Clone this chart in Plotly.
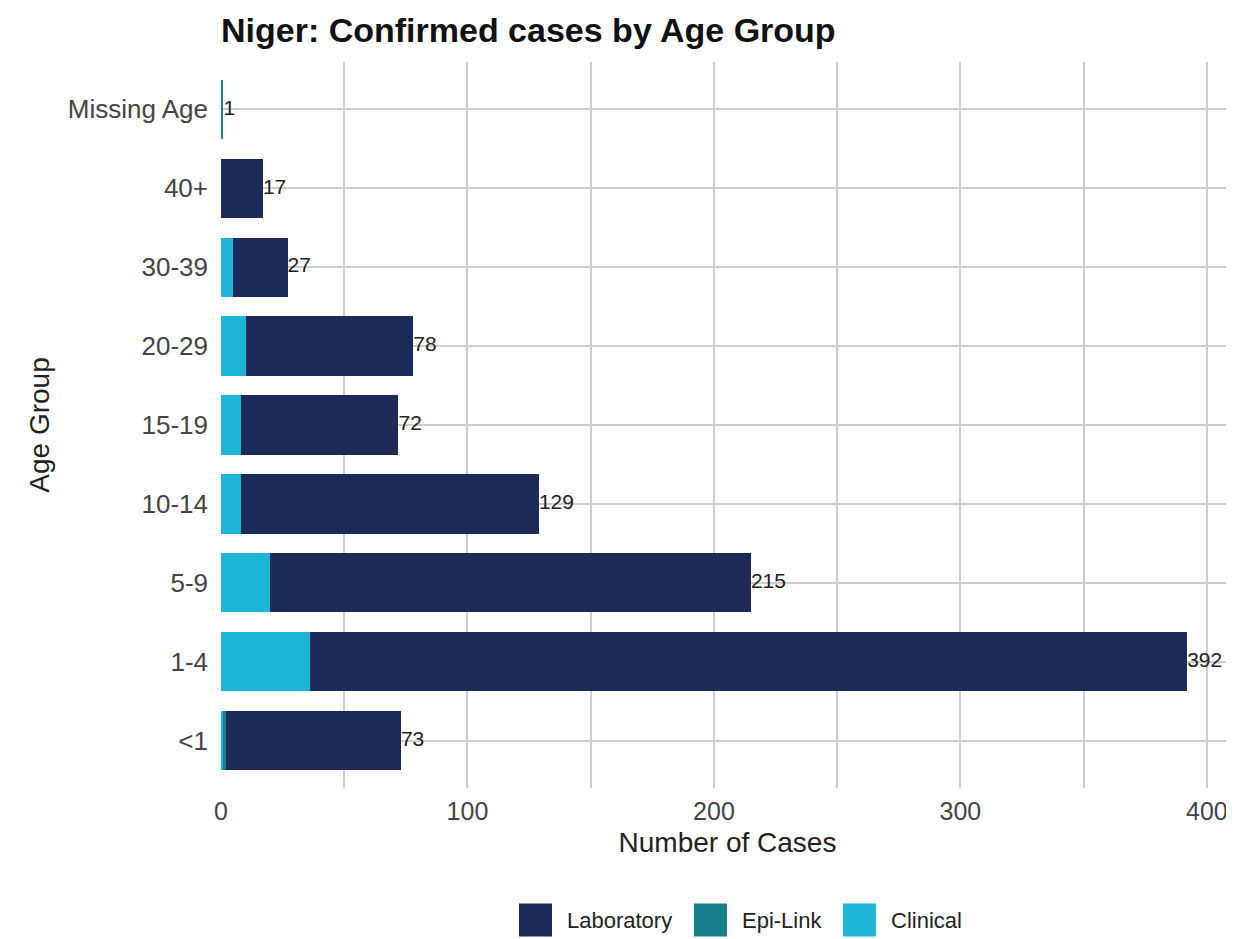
import plotly.graph_objects as go

# age groups, bottom to top
age_groups = ["<1", "1-4", "5-9", "10-14", "15-19", "20-29", "30-39", "40+", "Missing Age"]
totals = [73, 392, 215, 129, 72, 78, 27, 17, 1]
clinical = [1, 36, 20, 8, 8, 10, 5, 0, 0]
epi_link = [1, 0, 0, 0, 0, 0, 0, 0, 1]
laboratory = [t - c - e for t, c, e in zip(totals, clinical, epi_link)]
series_names = ["Laboratory", "Epi-Link", "Clinical"]

colors = {
    "Laboratory": "#1b2a56",
    "Epi-Link": "#1a7e8c",
    "Clinical": "#1db5d8",
}

FONT = "Liberation Sans, Arial, sans-serif"
# the page body adds an 8px margin, so the figure is 8px smaller than the window
OFF = 8
W, H = 1234 - OFF, 939 - OFF
L, R, T, B = 221 - OFF, 0, 62 - OFF, 939 - 788

fig = go.Figure()

# stacking left to right: clinical, epi-link, laboratory
for name, vals in [("Clinical", clinical), ("Epi-Link", epi_link), ("Laboratory", laboratory)]:
    fig.add_trace(go.Bar(
        y=age_groups, x=vals, name=name, orientation="h",
        marker=dict(color=colors[name], line_width=0),
        width=0.75, showlegend=False))

# total labels at bar ends
fig.add_trace(go.Scatter(
    y=age_groups, x=totals, mode="text",
    text=[str(t) for t in totals], textposition="middle right",
    textfont=dict(size=21, color="#222", family=FONT),
    showlegend=False, cliponaxis=False, hoverinfo="skip"))


# legend drawn by hand so the keys can be big squares like ggplot's
# (positions given in window pixels)
def px_x(p):
    return (p - OFF - L) / (W - L - R)


def px_y(p):
    return (H - B - (p - OFF)) / (H - T - B)


key_left = [519, 694, 843]
key_size = 33
key_mid = 920
for name, kx in zip(series_names, key_left):
    fig.add_shape(type="rect", xref="paper", yref="paper",
                  x0=px_x(kx), x1=px_x(kx + key_size),
                  y0=px_y(key_mid + key_size / 2), y1=px_y(key_mid - key_size / 2),
                  fillcolor=colors[name], line_width=0)
    fig.add_annotation(text=name, xref="paper", yref="paper",
                       x=px_x(kx + key_size + 13), y=px_y(key_mid),
                       xanchor="left", yanchor="middle", showarrow=False,
                       font=dict(size=22, color="#222", family=FONT))

grid = "#cdcdcd"
fig.update_layout(
    barmode="stack",
    width=W, height=H,
    plot_bgcolor="white", paper_bgcolor="white",
    font=dict(family=FONT, color="#333"),
    title=dict(text="<b>Niger: Confirmed cases by Age Group</b>",
               x=L / W, xanchor="left", y=1 - (30 - OFF) / H, yanchor="middle",
               font=dict(size=34, color="#111")),
    margin=dict(l=L, r=R, t=T, b=B, autoexpand=False),
    showlegend=False,
    xaxis=dict(range=[0, 411], tickvals=[0, 100, 200, 300, 400],
               showgrid=True, gridcolor=grid, gridwidth=2, zeroline=False,
               ticks="", ticklabelstandoff=6,
               tickfont=dict(size=25, color="#444"), automargin=False,
               minor=dict(dtick=50, tick0=0, showgrid=True, gridcolor=grid, gridwidth=2),
               title=dict(text="Number of Cases", font=dict(size=28, color="#222"), standoff=8)),
    yaxis=dict(range=[-0.6, 8.6], showgrid=True, gridcolor=grid, gridwidth=2, ticks="",
               tickfont=dict(size=26, color="#444"), ticklabelstandoff=12, automargin=False,
               title=dict(text="Age Group", font=dict(size=28, color="#222"), standoff=10)),
)

fig.write_html("out.html")
